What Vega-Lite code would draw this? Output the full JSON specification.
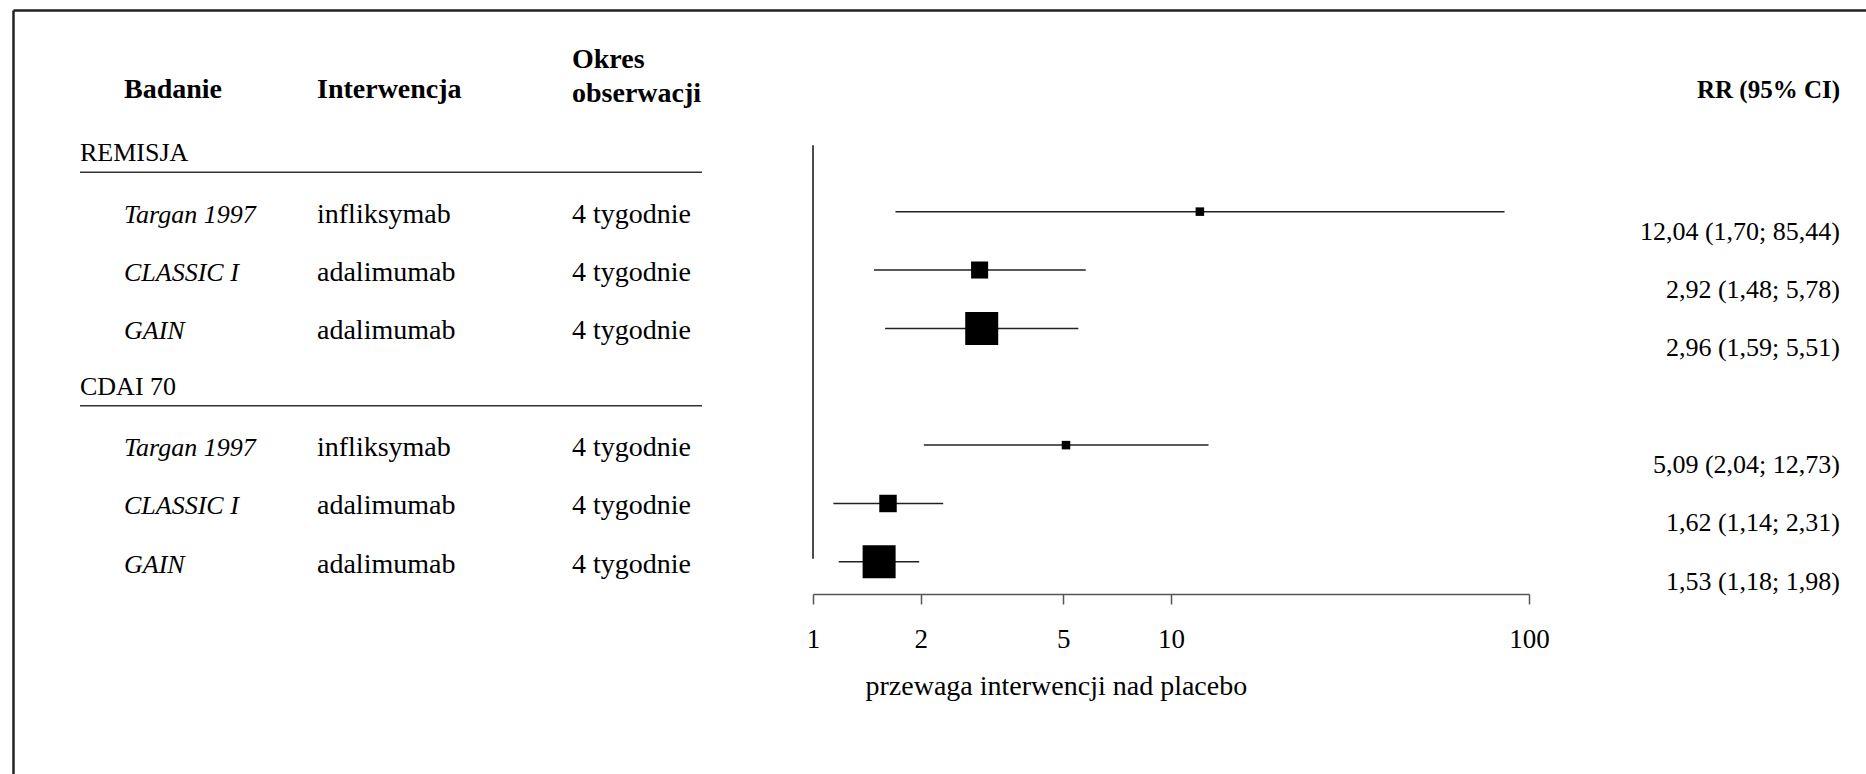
{
  "$schema": "https://vega.github.io/schema/vega-lite/v6.json",
  "width": 1853,
  "height": 764,
  "autosize": {"type": "none"},
  "padding": {"left": 13, "top": 10, "right": 0, "bottom": 0},
  "background": "white",
  "config": {
    "view": {"stroke": null},
    "font": "Liberation Serif",
    "text": {"font": "Liberation Serif", "color": "#000"},
    "axisTop": {"domain": true, "domainColor": "#222", "domainWidth": 2.5, "ticks": false, "labels": false, "grid": false}
  },
  "datasets": {
    "badania": [
      {"grupa": "REMISJA", "wiersz": 2, "badanie": "Targan 1997", "interwencja": "infliksymab", "okres": "4 tygodnie", "rr": 12.04, "dolna": 1.70, "gorna": 85.44, "waga": 5, "wynik": "12,04 (1,70; 85,44)"},
      {"grupa": "REMISJA", "wiersz": 3, "badanie": "CLASSIC I", "interwencja": "adalimumab", "okres": "4 tygodnie", "rr": 2.92, "dolna": 1.48, "gorna": 5.78, "waga": 20, "wynik": "2,92 (1,48; 5,78)"},
      {"grupa": "REMISJA", "wiersz": 4, "badanie": "GAIN", "interwencja": "adalimumab", "okres": "4 tygodnie", "rr": 2.96, "dolna": 1.59, "gorna": 5.51, "waga": 75, "wynik": "2,96 (1,59; 5,51)"},
      {"grupa": "CDAI 70", "wiersz": 6, "badanie": "Targan 1997", "interwencja": "infliksymab", "okres": "4 tygodnie", "rr": 5.09, "dolna": 2.04, "gorna": 12.73, "waga": 5, "wynik": "5,09 (2,04; 12,73)"},
      {"grupa": "CDAI 70", "wiersz": 7, "badanie": "CLASSIC I", "interwencja": "adalimumab", "okres": "4 tygodnie", "rr": 1.62, "dolna": 1.14, "gorna": 2.31, "waga": 21, "wynik": "1,62 (1,14; 2,31)"},
      {"grupa": "CDAI 70", "wiersz": 8, "badanie": "GAIN", "interwencja": "adalimumab", "okres": "4 tygodnie", "rr": 1.53, "dolna": 1.18, "gorna": 1.98, "waga": 75, "wynik": "1,53 (1,18; 1,98)"}
    ],
    "grupy": [
      {"grupa": "REMISJA", "wiersz": 1},
      {"grupa": "CDAI 70", "wiersz": 5}
    ]
  },
  "data": {"name": "badania"},
  "encoding": {
    "y": {
      "field": "wiersz",
      "type": "quantitative",
      "scale": {"domain": [-1.506, 11.583], "reverse": true, "nice": false, "zero": false},
      "axis": {"orient": "left", "domain": true, "domainColor": "#222", "domainWidth": 2.5, "ticks": false, "labels": false, "grid": false, "title": null}
    }
  },
  "layer": [
    {
      "layer": [
        {
          "data": {"values": [{"wiersz": 0, "naglowek": "Badanie"}]},
          "mark": {"type": "text", "align": "left", "baseline": "middle", "fontSize": 28, "fontWeight": "bold", "dy": -8},
          "encoding": {
            "x": {"datum": 1, "type": "quantitative", "scale": {"type": "linear", "domain": [-1, 0, 1, 2, 3, 4, 5, 6], "range": [0, 67, 111, 304, 559, 689, 1827, 1853], "nice": false, "zero": false}, "axis": {"orient": "top", "title": null}},
            "text": {"field": "naglowek"}
          }
        },
        {
          "data": {"values": [{"wiersz": 0, "naglowek": "Interwencja"}]},
          "mark": {"type": "text", "align": "left", "baseline": "middle", "fontSize": 28, "fontWeight": "bold", "dy": -8},
          "encoding": {
            "x": {"datum": 2, "type": "quantitative", "scale": {"type": "linear", "domain": [-1, 0, 1, 2, 3, 4, 5, 6], "range": [0, 67, 111, 304, 559, 689, 1827, 1853], "nice": false, "zero": false}, "axis": {"orient": "top", "title": null}},
            "text": {"field": "naglowek"}
          }
        },
        {
          "data": {"values": [{"wiersz": 0, "naglowek": "Okres\nobserwacji"}]},
          "mark": {"type": "text", "align": "left", "baseline": "middle", "fontSize": 28, "fontWeight": "bold", "lineBreak": "\n", "lineHeight": 34, "dy": -38},
          "encoding": {
            "x": {"datum": 3, "type": "quantitative", "scale": {"type": "linear", "domain": [-1, 0, 1, 2, 3, 4, 5, 6], "range": [0, 67, 111, 304, 559, 689, 1827, 1853], "nice": false, "zero": false}, "axis": {"orient": "top", "title": null}},
            "text": {"field": "naglowek"}
          }
        },
        {
          "data": {"values": [{"wiersz": 0, "naglowek": "RR (95% CI)"}]},
          "mark": {"type": "text", "align": "right", "baseline": "middle", "fontSize": 25, "fontWeight": "bold", "dy": -8},
          "encoding": {
            "x": {"datum": 5, "type": "quantitative", "scale": {"type": "linear", "domain": [-1, 0, 1, 2, 3, 4, 5, 6], "range": [0, 67, 111, 304, 559, 689, 1827, 1853], "nice": false, "zero": false}, "axis": {"orient": "top", "title": null}},
            "text": {"field": "naglowek"}
          }
        },
        {
          "data": {"name": "grupy"},
          "mark": {"type": "text", "align": "left", "baseline": "middle", "fontSize": 26, "dy": -3},
          "encoding": {
            "x": {"datum": 0, "type": "quantitative", "scale": {"type": "linear", "domain": [-1, 0, 1, 2, 3, 4, 5, 6], "range": [0, 67, 111, 304, 559, 689, 1827, 1853], "nice": false, "zero": false}, "axis": {"orient": "top", "title": null}},
            "text": {"field": "grupa"}
          }
        },
        {
          "data": {"name": "grupy"},
          "mark": {"type": "rule", "color": "#333", "strokeWidth": 1.5, "yOffset": 16},
          "encoding": {
            "x": {"datum": 0, "type": "quantitative", "scale": {"type": "linear", "domain": [-1, 0, 1, 2, 3, 4, 5, 6], "range": [0, 67, 111, 304, 559, 689, 1827, 1853], "nice": false, "zero": false}, "axis": {"orient": "top", "title": null}},
            "x2": {"datum": 4}
          }
        },
        {
          "mark": {"type": "text", "align": "left", "baseline": "middle", "fontSize": 26, "fontStyle": "italic"},
          "encoding": {
            "x": {"datum": 1, "type": "quantitative", "scale": {"type": "linear", "domain": [-1, 0, 1, 2, 3, 4, 5, 6], "range": [0, 67, 111, 304, 559, 689, 1827, 1853], "nice": false, "zero": false}, "axis": {"orient": "top", "title": null}},
            "text": {"field": "badanie"}
          }
        },
        {
          "mark": {"type": "text", "align": "left", "baseline": "middle", "fontSize": 28},
          "encoding": {
            "x": {"datum": 2, "type": "quantitative", "scale": {"type": "linear", "domain": [-1, 0, 1, 2, 3, 4, 5, 6], "range": [0, 67, 111, 304, 559, 689, 1827, 1853], "nice": false, "zero": false}, "axis": {"orient": "top", "title": null}},
            "text": {"field": "interwencja"}
          }
        },
        {
          "mark": {"type": "text", "align": "left", "baseline": "middle", "fontSize": 28},
          "encoding": {
            "x": {"datum": 3, "type": "quantitative", "scale": {"type": "linear", "domain": [-1, 0, 1, 2, 3, 4, 5, 6], "range": [0, 67, 111, 304, 559, 689, 1827, 1853], "nice": false, "zero": false}, "axis": {"orient": "top", "title": null}},
            "text": {"field": "okres"}
          }
        },
        {
          "mark": {"type": "text", "align": "right", "baseline": "middle", "fontSize": 26, "dy": 17},
          "encoding": {
            "x": {"datum": 5, "type": "quantitative", "scale": {"type": "linear", "domain": [-1, 0, 1, 2, 3, 4, 5, 6], "range": [0, 67, 111, 304, 559, 689, 1827, 1853], "nice": false, "zero": false}, "axis": {"orient": "top", "title": null}},
            "text": {"field": "wynik"}
          }
        }
      ]
    },
    {
      "layer": [
        {
          "data": {"values": [{"rr": 1, "wiersz": 1, "wiersz_do": 8}]},
          "mark": {"type": "rule", "color": "#111", "strokeWidth": 1.5, "yOffset": -11, "y2Offset": -6},
          "encoding": {
            "x": {
              "field": "rr",
              "type": "quantitative",
              "scale": {"type": "log", "domain": [1, 100], "range": [800, 1516], "nice": false},
              "axis": {
                "orient": "bottom",
                "offset": -180,
                "values": [1, 2, 5, 10, 100],
                "format": "d",
                "tickSize": 10,
                "tickColor": "#555",
                "tickWidth": 1.5,
                "domainColor": "#555",
                "domainWidth": 1.5,
                "grid": false,
                "labelFont": "Liberation Serif",
                "labelFontSize": 27,
                "labelColor": "#000",
                "labelPadding": 22,
                "labelFlush": false,
                "labelOverlap": false,
                "title": "przewaga interwencji nad placebo",
                "titleFont": "Liberation Serif",
                "titleFontSize": 28,
                "titleFontWeight": "normal",
                "titleColor": "#000",
                "titleX": 852,
                "titleY": 100,
                "titleAlign": "left",
                "titleBaseline": "alphabetic"
              }
            },
            "y2": {"field": "wiersz_do"}
          }
        },
        {
          "mark": {"type": "rule", "color": "#222", "strokeWidth": 1.5, "yOffset": -3},
          "encoding": {
            "x": {"field": "dolna", "type": "quantitative"},
            "x2": {"field": "gorna"}
          }
        },
        {
          "mark": {"type": "point", "shape": "square", "filled": true, "color": "#000", "opacity": 1, "strokeWidth": 0, "yOffset": -3},
          "encoding": {
            "x": {"field": "rr", "type": "quantitative"},
            "size": {"field": "waga", "type": "quantitative", "scale": {"type": "linear", "domain": [0, 75], "range": [0, 1089], "zero": true}, "legend": null}
          }
        }
      ]
    }
  ],
  "resolve": {"scale": {"x": "independent"}}
}
